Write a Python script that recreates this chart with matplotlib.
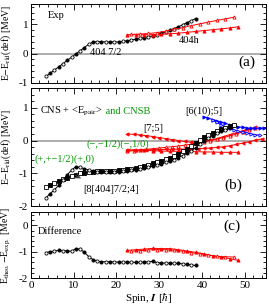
import numpy as np
import matplotlib
matplotlib.use("Agg")
import matplotlib.pyplot as plt
from matplotlib.ticker import MultipleLocator

plt.rcParams["font.family"] = ["Liberation Serif", "DejaVu Serif"]
plt.rcParams["mathtext.fontset"] = "stix"
plt.rcParams["axes.unicode_minus"] = False

# ── data ──────────────────────────────────────────────────────────────────────
# (a) experiment
spin_exp = np.arange(3.5, 39.0, 1.0)
e_exp = [-0.78, -0.67, -0.56, -0.45, -0.34, -0.23, -0.12, -0.01, 0.10, 0.21,
         0.32, 0.40, 0.41, 0.41, 0.40, 0.40, 0.40, 0.40, 0.42, 0.44,
         0.47, 0.49, 0.52, 0.55, 0.58, 0.61, 0.65, 0.69, 0.74, 0.80,
         0.86, 0.92, 0.99, 1.06, 1.13, 1.20]
spin_h_fill = np.arange(22.5, 49.0, 2.0)
e_h_fill = [0.65, 0.65, 0.65, 0.65, 0.66, 0.68, 0.70, 0.73, 0.76, 0.79, 0.82, 0.85, 0.88, 0.92]
spin_h_open = np.arange(23.5, 48.0, 2.0)
e_h_open = [0.66, 0.67, 0.69, 0.72, 0.77, 0.83, 0.89, 0.96, 1.02, 1.08, 1.14, 1.19, 1.25]

# (b) calculations
spin_sq = np.arange(3.5, 48.0, 1.0)
e_sq = [-1.42, -1.36, -1.30, -1.24, -1.18, -1.13, -1.08, -1.04, -1.00, -0.98,
        -0.96, -0.95, -0.94, -0.94, -0.93, -0.93, -0.92, -0.91, -0.90, -0.88,
        -0.86, -0.84, -0.81, -0.78, -0.74, -0.70, -0.66, -0.62, -0.57, -0.52,
        -0.46, -0.40, -0.33, -0.25, -0.16, -0.07, 0.02, 0.10, 0.17, 0.24,
        0.30, 0.35, 0.39, 0.43, 0.46]
spin_ci = np.arange(3.5, 47.0, 1.0)
e_ci = [-1.75, -1.62, -1.50, -1.37, -1.22, -1.05, -0.90, -0.80, -0.82, -0.86,
        -0.90, -0.93, -0.95, -0.96, -0.96, -0.96, -0.96, -0.95, -0.94, -0.93,
        -0.91, -0.89, -0.87, -0.84, -0.81, -0.78, -0.75, -0.71, -0.67, -0.63,
        -0.58, -0.52, -0.46, -0.39, -0.31, -0.22, -0.12, -0.02, 0.07, 0.15,
        0.22, 0.28, 0.33, 0.37]
spin_r75 = np.arange(22.5, 53.0, 1.5)
e_r75 = [0.20, 0.19, 0.17, 0.15, 0.12, 0.09, 0.06, 0.03, 0.00, -0.03, -0.05,
         -0.05, -0.03, 0.01, 0.06, 0.12, 0.18, 0.24, 0.30, 0.35, 0.40]
spin_rmo = np.arange(22.5, 53.0, 1.5)
e_rmo = [-0.33, -0.31, -0.29, -0.27, -0.25, -0.23, -0.21, -0.19, -0.17, -0.14, -0.11,
         -0.08, -0.04, 0.00, 0.04, 0.09, 0.14, 0.20, 0.26, 0.32, 0.38]
spin_rmf = np.arange(22.5, 55.0, 1.5)
e_rmf = [-0.30, -0.30, -0.29, -0.29, -0.28, -0.28, -0.27, -0.27, -0.26, -0.26, -0.25,
         -0.25, -0.24, -0.23, -0.21, -0.19, -0.16, -0.12, -0.08, -0.04, 0.01, 0.05]
spin_rpf = np.arange(22.5, 49.0, 2.0)
e_rpf = [-0.28, -0.29, -0.30, -0.31, -0.32, -0.33, -0.33, -0.34, -0.34, -0.35, -0.35, -0.36, -0.36, -0.36]
spin_bf = np.arange(40.5, 55.0, 1.0)
e_bf = [0.72, 0.68, 0.64, 0.60, 0.56, 0.52, 0.48, 0.45, 0.42, 0.40, 0.38, 0.37, 0.37, 0.38, 0.38]
spin_bo = np.arange(42.5, 54.0, 1.0)
e_bo = [0.62, 0.55, 0.48, 0.42, 0.37, 0.32, 0.28, 0.25, 0.22, 0.20, 0.18, 0.16]

# (c) difference
spin_d = np.arange(3.5, 39.0, 1.0)
e_d = [-1.03, -1.00, -0.97, -0.95, -0.96, -0.97, -0.98, -0.88, -0.90, -1.02,
       -1.18, -1.30, -1.36, -1.38, -1.38, -1.38, -1.39, -1.39, -1.39, -1.39,
       -1.40, -1.40, -1.40, -1.39, -1.39, -1.36, -1.42, -1.42, -1.43, -1.43,
       -1.44, -1.44, -1.46, -1.48, -1.50, -1.52]
spin_dh_fill = np.arange(22.5, 49.0, 2.0)
e_dh_fill = [-0.95, -0.92, -0.90, -0.87, -0.88, -0.88, -0.92, -0.97, -1.02, -1.08, -1.15, -1.20, -1.26, -1.33]
spin_dh_open = np.arange(23.5, 48.0, 2.0)
e_dh_open = [-0.98, -0.96, -0.93, -0.92, -0.92, -0.94, -0.98, -1.03, -1.08, -1.13, -1.17, -1.19, -1.20]

RED, BLUE, GREEN = "#ff0000", "#0000ff", "#009a00"
lw, ms = 0.7, 2.3
fs = 7.5


def alt_markers(ax, x, y, marker, color):
    """Line through all points, markers alternating open / filled."""
    x = np.asarray(x); y = np.asarray(y)
    ax.plot(x, y, "-", color=color, lw=lw)
    ax.plot(x[0::2], y[0::2], marker, ls="none", ms=ms, mfc="white", mec=color, mew=0.6)
    ax.plot(x[1::2], y[1::2], marker, ls="none", ms=ms, mfc=color, mec=color, mew=0.6)


def line(ax, x, y, marker, color, filled=True):
    ax.plot(x, y, "-", color=color, lw=lw, marker=marker, ms=ms,
            mfc=color if filled else "white", mec=color, mew=0.6)


fig = plt.figure(figsize=(2.69, 3.08), dpi=100)
left, width = 0.115, 0.874
ax_a = fig.add_axes([left, 0.731, width, 0.256])
ax_b = fig.add_axes([left, 0.331, width, 0.383])
ax_c = fig.add_axes([left, 0.097, width, 0.214])

for ax in (ax_a, ax_b, ax_c):
    ax.set_xlim(0, 55)
    ax.xaxis.set_major_locator(MultipleLocator(10))
    ax.xaxis.set_minor_locator(MultipleLocator(2))
    ax.yaxis.set_major_locator(MultipleLocator(1))
    ax.yaxis.set_minor_locator(MultipleLocator(0.2))
    ax.tick_params(which="both", direction="in", top=True, right=True, labelsize=8, width=0.6, pad=2)
    ax.tick_params(which="major", length=4)
    ax.tick_params(which="minor", length=2)
    ax.yaxis.set_label_coords(-0.075, 0.5)
    for s in ax.spines.values():
        s.set_linewidth(0.7)
    if ax is not ax_c:
        ax.tick_params(labelbottom=False)

ylab_kw = dict(fontsize=7)

# (a)
ax_a.set_ylim(-1, 1.7)
ax_a.axhline(0, color="#a0a0a0", lw=1.2, zorder=0)
alt_markers(ax_a, spin_exp, e_exp, "o", "black")
line(ax_a, spin_h_fill, e_h_fill, "^", RED, True)
line(ax_a, spin_h_open, e_h_open, "^", RED, False)
ax_a.text(4, 1.3, "Exp", fontsize=fs, va="center")
ax_a.text(13.8, 0.05, "404 7/2", fontsize=fs, va="center")
ax_a.text(34.5, 0.45, "404h", fontsize=fs, va="center")
ax_a.text(50.5, -0.3, "(a)", fontsize=11, ha="center", va="center")
ax_a.set_ylabel("E$-$E$_{\\rm rld}$(def) [MeV]", **ylab_kw)

# (b)
ax_b.set_ylim(-2, 1.6)
ax_b.axhline(0, color="#a0a0a0", lw=1.2, zorder=0)
line(ax_b, spin_r75, e_r75, "<", RED, True)
line(ax_b, spin_rmo, e_rmo, "^", RED, False)
line(ax_b, spin_rmf, e_rmf, "<", RED, True)
line(ax_b, spin_rpf, e_rpf, "^", RED, True)
line(ax_b, spin_bf, e_bf, ">", BLUE, True)
line(ax_b, spin_bo, e_bo, ">", BLUE, False)
alt_markers(ax_b, spin_sq, e_sq, "s", "black")
alt_markers(ax_b, spin_ci, e_ci, "o", "black")
t_cns = ax_b.text(2.1, 0.9, "CNS + <E$_{\\rm pair}$>", fontsize=fs, va="center")
ax_b.annotate(" and CNSB", xy=(1, 0.5), xycoords=t_cns, va="center",
              fontsize=fs, color=GREEN)
ax_b.text(36, 0.9, "[6(10);5]", fontsize=fs, va="center")
ax_b.text(26.3, 0.36, "[7;5]", fontsize=fs, va="center")
ax_b.text(13.1, -0.1, "(\u2212,\u22121/2)(\u2212,1/0)", fontsize=fs, va="center", color=GREEN)
ax_b.text(0.9, -0.56, "(+,+\u22121/2)(+,0)", fontsize=fs, va="center", color=GREEN)
ax_b.text(12.2, -1.5, "[8[404]7/2;4]", fontsize=fs, va="center")
ax_b.annotate("", xy=(12.3, -1.2), xytext=(9.8, -1.02),
              arrowprops=dict(arrowstyle="->", color="#555555", lw=0.6))
ax_b.text(47.3, -1.38, "(b)", fontsize=11, ha="center", va="center")
ax_b.set_ylabel("E$-$E$_{\\rm rld}$(def) [MeV]", **ylab_kw)

# (c)
ax_c.set_ylim(-2, 0.5)
alt_markers(ax_c, spin_d, e_d, "o", "black")
line(ax_c, spin_dh_fill, e_dh_fill, "^", RED, True)
line(ax_c, spin_dh_open, e_dh_open, "^", RED, False)
ax_c.text(1.7, -0.25, "Difference", fontsize=fs, va="center")
ax_c.text(47, -0.05, "(c)", fontsize=11, ha="center", va="center")
ax_c.set_ylabel("E$_{\\rm theo.}$$-$E$_{\\rm exp.}$ [MeV]", **ylab_kw)
ax_c.set_xlabel("Spin, $\\boldsymbol{I}$ [$\\hbar$]", fontsize=8, labelpad=1)

fig.savefig("out.png", dpi=100)
